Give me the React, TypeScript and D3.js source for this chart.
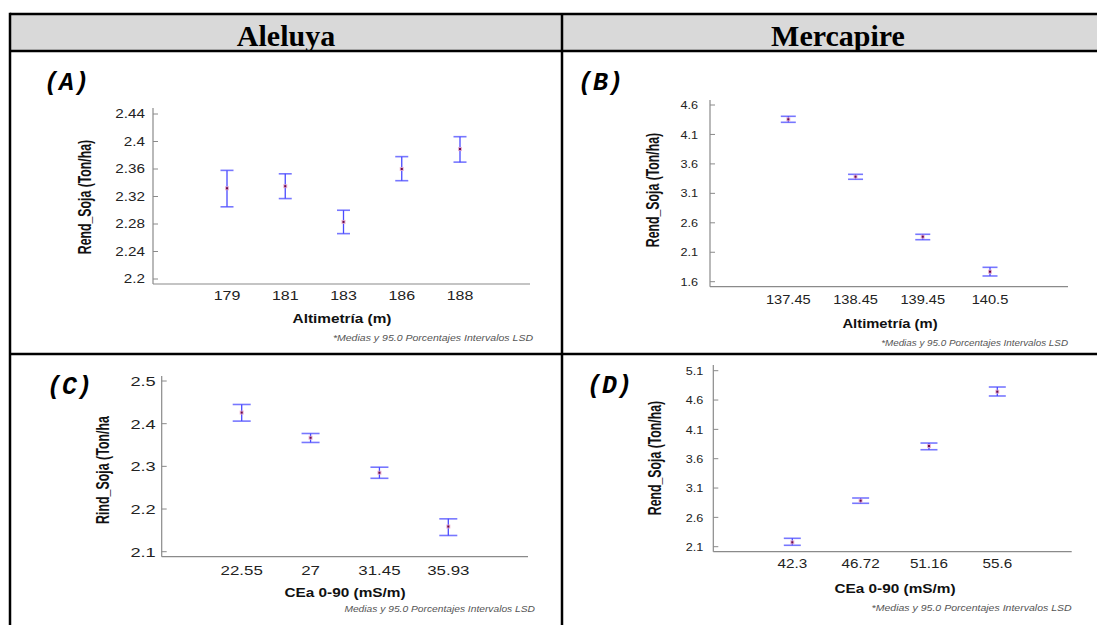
import { useEffect, useRef } from 'react';
import * as d3 from 'd3';

// Panel A - Aleluya, altimetria
const catsA = ['179', '181', '183', '186', '188'];
const meanA = [2.332, 2.335, 2.283, 2.36, 2.389];
const lowA = [2.305, 2.317, 2.266, 2.343, 2.37];
const highA = [2.358, 2.353, 2.3, 2.378, 2.407];
const ticksA = [2.2, 2.24, 2.28, 2.32, 2.36, 2.4, 2.44];
const tickLabelsA = ['2.2', '2.24', '2.28', '2.32', '2.36', '2.4', '2.44'];

// Panel B - Mercapire, altimetria
const catsB = ['137.45', '138.45', '139.45', '140.5'];
const meanB = [4.357, 3.383, 2.364, 1.77];
const lowB = [4.306, 3.339, 2.313, 1.697];
const highB = [4.408, 3.423, 2.405, 1.844];
const ticksB = [1.6, 2.1, 2.6, 3.1, 3.6, 4.1, 4.6];
const tickLabelsB = ['1.6', '2.1', '2.6', '3.1', '3.6', '4.1', '4.6'];

// Panel C - Aleluya, CEa
const catsC = ['22.55', '27', '31.45', '35.93'];
const meanC = [2.426, 2.367, 2.285, 2.159];
const lowC = [2.406, 2.356, 2.272, 2.138];
const highC = [2.445, 2.377, 2.298, 2.177];
const ticksC = [2.1, 2.2, 2.3, 2.4, 2.5];
const tickLabelsC = ['2.1', '2.2', '2.3', '2.4', '2.5'];

// Panel D - Mercapire, CEa
const catsD = ['42.3', '46.72', '51.16', '55.6'];
const meanD = [2.175, 2.884, 3.816, 4.742];
const lowD = [2.124, 2.84, 3.753, 4.669];
const highD = [2.243, 2.93, 3.867, 4.822];
const ticksD = [2.1, 2.6, 3.1, 3.6, 4.1, 4.6, 5.1];
const tickLabelsD = ['2.1', '2.6', '3.1', '3.6', '4.1', '4.6', '5.1'];

const headers = ['Aleluya', 'Mercapire'];
const FOOT = '*Medias y 95.0 Porcentajes Intervalos LSD';

const SANS = '"Liberation Sans", Arial, sans-serif';

type Panel = {
  tag: string; tagX: number; tagY: number;
  cats: string[]; mean: number[]; low: number[]; high: number[];
  ticks: number[]; tickLabels: string[];
  axisX: number; axisTop: number; axisY: number; axisRight: number;
  yPx: [number, number]; xFirst: number; xLast: number; cap: number;
  yTick: [number, number]; xTick: [number, number]; tickGap: number; xTickY: number;
  xTitle: string; xTitleX: number; xTitleY: number; title: [number, number];
  yTitle: string; yTitleX: number; yTitleY: number; yTitleSize: number;
  foot: string; footX: number; footY: number; footSize: [number, number];
};

const panels: Panel[] = [
  {
    tag: '(A)', tagX: 44, tagY: 90,
    cats: catsA, mean: meanA, low: lowA, high: highA, ticks: ticksA, tickLabels: tickLabelsA,
    axisX: 153, axisTop: 108, axisY: 284, axisRight: 530,
    yPx: [279, 114], xFirst: 227, xLast: 460, cap: 13,
    yTick: [12, 1.27], xTick: [12.5, 1.28], tickGap: 8, xTickY: 300,
    xTitle: 'Altimetría (m)', xTitleX: 342, xTitleY: 323, title: [12.8, 1.2],
    yTitle: 'Rend_Soja (Ton/ha)', yTitleX: 85, yTitleY: 197, yTitleSize: 12.3,
    foot: FOOT, footX: 533, footY: 341, footSize: [8.5, 1.24],
  },
  {
    tag: '(B)', tagX: 578, tagY: 90,
    cats: catsB, mean: meanB, low: lowB, high: highB, ticks: ticksB, tickLabels: tickLabelsB,
    axisX: 710, axisTop: 100, axisY: 286.7, axisRight: 1068,
    yPx: [281.7, 105], xFirst: 788.3, xLast: 990, cap: 15,
    yTick: [11.5, 1.1], xTick: [12, 1.22], tickGap: 12, xTickY: 304,
    xTitle: 'Altimetría (m)', xTitleX: 890, xTitleY: 328, title: [12.3, 1.2],
    yTitle: 'Rend_Soja (Ton/ha)', yTitleX: 653, yTitleY: 190, yTitleSize: 12.3,
    foot: FOOT, footX: 1068, footY: 346, footSize: [8.2, 1.2],
  },
  {
    tag: '(C)', tagX: 47, tagY: 394,
    cats: catsC, mean: meanC, low: lowC, high: highC, ticks: ticksC, tickLabels: tickLabelsC,
    axisX: 161.7, axisTop: 376, axisY: 556.7, axisRight: 528,
    yPx: [551.7, 381], xFirst: 241.7, xLast: 448.3, cap: 18,
    yTick: [13.5, 1.35], xTick: [13.5, 1.25], tickGap: 6, xTickY: 575,
    xTitle: 'CEa 0-90 (mS/m)', xTitleX: 345, xTitleY: 597, title: [12.8, 1.2],
    yTitle: 'Rind_Soja (Ton/ha', yTitleX: 103, yTitleY: 470, yTitleSize: 12.4,
    foot: 'Medias y 95.0 Porcentajes Intervalos LSD', footX: 535, footY: 612, footSize: [8.4, 1.22],
  },
  {
    tag: '(D)', tagX: 587, tagY: 393,
    cats: catsD, mean: meanD, low: lowD, high: highD, ticks: ticksD, tickLabels: tickLabelsD,
    axisX: 713.3, axisTop: 365, axisY: 551.7, axisRight: 1071.7,
    yPx: [546.7, 370.7], xFirst: 792.3, xLast: 997.3, cap: 17,
    yTick: [11.5, 1.1], xTick: [12.5, 1.22], tickGap: 10, xTickY: 567.5,
    xTitle: 'CEa 0-90 (mS/m)', xTitleX: 895, xTitleY: 593, title: [12.8, 1.2],
    yTitle: 'Rend_Soja (Ton/ha)', yTitleX: 655, yTitleY: 458, yTitleSize: 12.3,
    foot: FOOT, footX: 1071.7, footY: 611, footSize: [8.5, 1.24],
  },
];

// text that is stretched horizontally, like the squashed screenshots in the source
function stretched(g: any, x: number, y: number, txt: string, size: number, sx: number, anchor = 'middle', weight = 'normal', style = 'normal', fill = '#000') {
  return g.append('text')
    .attr('transform', `translate(${x},${y}) scale(${sx},1)`)
    .attr('text-anchor', anchor)
    .attr('font-family', SANS)
    .attr('font-size', size)
    .attr('font-weight', weight)
    .attr('font-style', style)
    .attr('fill', fill)
    .text(txt);
}

export default function App() {
  const svgRef = useRef<SVGSVGElement>(null);

  useEffect(() => {
    if (!svgRef.current) return;
    const svg = d3.select(svgRef.current);
    svg.selectAll('*').remove();

    const W = 1097;
    const H = 625;
    svg.append('rect').attr('width', W).attr('height', H).attr('fill', '#fff');

    // Table frame
    const top = 14, headBottom = 51, rowLine = 354, left = 10, mid = 562;
    svg.append('rect').attr('x', left).attr('y', top).attr('width', W - left).attr('height', headBottom - top).attr('fill', '#d9d9d9');
    const frame = svg.append('g').attr('stroke', '#000').attr('stroke-width', 2.5);
    frame.append('line').attr('x1', left).attr('x2', W).attr('y1', top).attr('y2', top);
    frame.append('line').attr('x1', left).attr('x2', W).attr('y1', headBottom).attr('y2', headBottom);
    frame.append('line').attr('x1', left).attr('x2', W).attr('y1', rowLine).attr('y2', rowLine);
    frame.append('line').attr('x1', left).attr('x2', left).attr('y1', top - 1.25).attr('y2', H);
    frame.append('line').attr('x1', mid).attr('x2', mid).attr('y1', top).attr('y2', H);

    const headX = [286, 838];
    headers.forEach((h, i) => {
      svg.append('text')
        .attr('x', headX[i]).attr('y', 46)
        .attr('text-anchor', 'middle')
        .attr('font-family', '"Liberation Serif", "Times New Roman", serif')
        .attr('font-weight', 'bold')
        .attr('font-size', 30)
        .text(h);
    });

    panels.forEach((p) => {
      const g = svg.append('g');

      // panel tag, Courier-like bold italic
      g.append('text')
        .attr('x', p.tagX).attr('y', p.tagY)
        .attr('font-family', '"Liberation Mono", "Courier New", monospace')
        .attr('font-weight', 'bold').attr('font-style', 'italic')
        .attr('font-size', 25)
        .text(p.tag);

      const y = d3.scaleLinear()
        .domain([p.ticks[0], p.ticks[p.ticks.length - 1]])
        .range(p.yPx);
      const x = d3.scalePoint<string>()
        .domain(p.cats)
        .range([p.xFirst, p.xLast]);

      // axes
      const axisCol = '#8a8a8a';
      g.append('line').attr('x1', p.axisX).attr('x2', p.axisX).attr('y1', p.axisTop).attr('y2', p.axisY)
        .attr('stroke', axisCol).attr('stroke-width', 1.2);
      g.append('line').attr('x1', p.axisX).attr('x2', p.axisRight).attr('y1', p.axisY).attr('y2', p.axisY)
        .attr('stroke', axisCol).attr('stroke-width', 1.2);

      p.ticks.forEach((t, i) => {
        g.append('line')
          .attr('x1', p.axisX).attr('x2', p.axisX + 5)
          .attr('y1', y(t)).attr('y2', y(t))
          .attr('stroke', axisCol).attr('stroke-width', 1);
        stretched(g, p.axisX - p.tickGap, y(t) + p.yTick[0] * 0.36, p.tickLabels[i], p.yTick[0], p.yTick[1], 'end', 'normal', 'normal', '#222');
      });

      p.cats.forEach((c) => {
        stretched(g, x(c)!, p.xTickY, c, p.xTick[0], p.xTick[1], 'middle', 'normal', 'normal', '#222');
      });

      stretched(g, p.xTitleX, p.xTitleY, p.xTitle, p.title[0], p.title[1], 'middle', 'bold', 'normal', '#111');

      g.append('text')
        .attr('transform', `translate(${p.yTitleX},${p.yTitleY}) rotate(-90) scale(1,1.45)`)
        .attr('text-anchor', 'middle')
        .attr('dy', '0.35em')
        .attr('font-family', SANS)
        .attr('font-size', p.yTitleSize)
        .attr('font-weight', 'bold')
        .attr('fill', '#111')
        .text(p.yTitle);

      stretched(g, p.footX, p.footY, p.foot, p.footSize[0], p.footSize[1], 'end', 'normal', 'italic', '#555');

      // LSD intervals
      const bars = g.append('g');
      p.cats.forEach((c, i) => {
        const cx = x(c)!;
        const blue = '#4a4aff';
        bars.append('line').attr('x1', cx).attr('x2', cx).attr('y1', y(p.low[i])).attr('y2', y(p.high[i]))
          .attr('stroke', blue).attr('stroke-width', 1.3);
        [p.low[i], p.high[i]].forEach((v) => {
          bars.append('line')
            .attr('x1', cx - p.cap / 2).attr('x2', cx + p.cap / 2)
            .attr('y1', y(v)).attr('y2', y(v))
            .attr('stroke', blue).attr('stroke-opacity', 0.75).attr('stroke-width', 1.6);
        });
        bars.append('rect')
          .attr('x', cx - 2).attr('y', y(p.mean[i]) - 2).attr('width', 4).attr('height', 4)
          .attr('fill', '#e6a3c6').attr('opacity', 0.8);
        bars.append('rect')
          .attr('x', cx - 1).attr('y', y(p.mean[i]) - 1).attr('width', 2).attr('height', 2)
          .attr('fill', '#6a0a4a');
      });
    });
  }, []);

  return (
    <div style={{ position: 'absolute', left: 0, top: 0 }}>
      <svg ref={svgRef} width={1097} height={625} style={{ display: 'block' }} />
    </div>
  );
}
